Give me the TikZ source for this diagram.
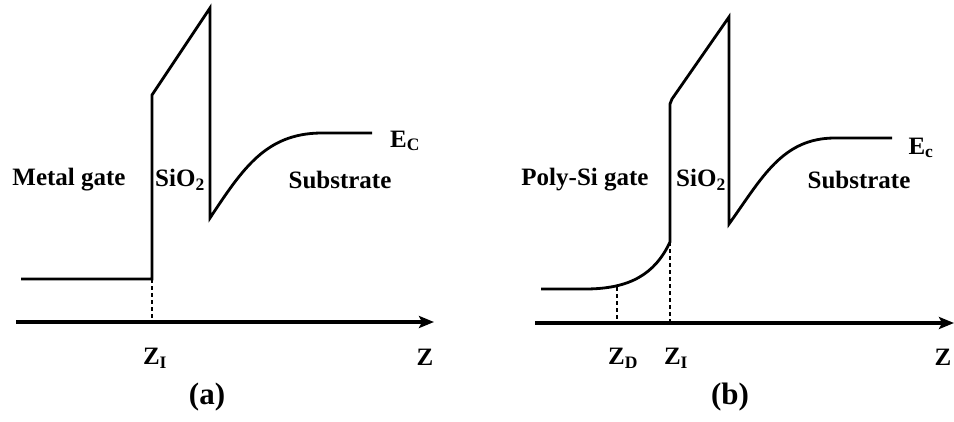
\documentclass[tikz,border=0pt]{standalone}
\usepackage{fontspec}
\setmainfont{Liberation Serif}
\usetikzlibrary{arrows.meta}
\tikzset{
  band/.style={line width=2.8pt, line join=miter},
  axis/.style={line width=3.4pt, -{Stealth[length=15pt,width=12pt,inset=3pt]}},
  guide/.style={line width=1.2pt, dash pattern=on 4pt off 3pt},
  lbl/.style={font=\fontsize{25}{27}\selectfont\bfseries, inner sep=0pt},
  caplbl/.style={font=\fontsize{31}{33}\selectfont\bfseries, inner sep=0pt},
}
\begin{document}
\begin{tikzpicture}[x=1pt,y=-1pt]
\useasboundingbox (0,0) rectangle (954,421);
% ---------- panel (a) ----------
\coordinate (a0) at (21,279);
\coordinate (aI) at (152,279);
\coordinate (aIax) at (152,322);
\draw[band] (a0) -- (aI) -- (152,95) -- (210,8) -- (210,218)
  .. controls (243,168) and (266,134) .. (320,133) -- (372,133);
\draw[guide] (aI) -- (aIax);
\coordinate (aaxL) at (16,322);
\coordinate (aaxR) at (434,322);
\draw[axis] (aaxL) -- (aaxR);
\node[lbl] (aEc) at (405,141) {E\textsubscript{C}};
\node[lbl] (aMetal) at (69,180) {Metal gate};
\node[lbl] (aSiO) at (180,180) {SiO\textsubscript{2}};
\node[lbl] (aSub) at (340,180) {Substrate};
\node[lbl] (aZI) at (155,358) {Z\textsubscript{I}};
\node[lbl] (aZ) at (425,357) {Z};
\node[caplbl] (acap) at (207,397) {(a)};
% ---------- panel (b) ----------
\coordinate (b0) at (541,289);
\coordinate (bD) at (617,287);
\coordinate (bI) at (670,242);
\coordinate (bDax) at (617,323);
\coordinate (bIax) at (670,323);
\draw[band] (b0) -- (585,289) .. controls (630,289) and (655,274) .. (bI)
  -- (670,104) -- (672,99) -- (729,17) -- (729,224)
  .. controls (762,178) and (782,138) .. (835,138) -- (892,138);
\draw[guide] (bD) -- (bDax);
\draw[guide] (bI) -- (bIax);
\coordinate (baxL) at (535,323);
\coordinate (baxR) at (954,323);
\draw[axis] (baxL) -- (baxR);
\node[lbl] (bEc) at (921,148) {E\textsubscript{c}};
\node[lbl] (bPoly) at (585,180) {Poly-Si gate};
\node[lbl] (bSiO) at (701,180) {SiO\textsubscript{2}};
\node[lbl] (bSub) at (859,180) {Substrate};
\node[lbl] (bZD) at (623,358) {Z\textsubscript{D}};
\node[lbl] (bZI) at (676,358) {Z\textsubscript{I}};
\node[lbl] (bZ) at (943,357) {Z};
\node[caplbl] (bcap) at (730,397) {(b)};
\end{tikzpicture}
\end{document}
